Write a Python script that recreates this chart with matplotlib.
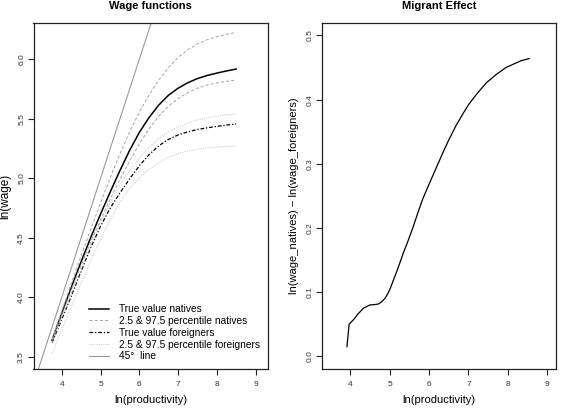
import matplotlib
matplotlib.use("Agg")
import matplotlib.pyplot as plt

plt.rcParams['font.family'] = ['Liberation Sans', 'DejaVu Sans']

# ---- data ----
x_wage = [3.75, 4.0, 4.25, 4.5, 4.75, 5.0, 5.25, 5.5, 5.75, 6.0,
          6.25, 6.5, 6.75, 7.0, 7.25, 7.5, 7.75, 8.0, 8.25, 8.5]
natives_true = [3.64, 3.867, 4.087, 4.30, 4.505, 4.70, 4.885, 5.065, 5.235, 5.385,
                5.51, 5.615, 5.697, 5.757, 5.803, 5.838, 5.864, 5.884, 5.902, 5.918]
natives_hi = [3.645, 3.885, 4.12, 4.35, 4.575, 4.795, 5.005, 5.205, 5.39, 5.555,
              5.70, 5.825, 5.93, 6.015, 6.08, 6.13, 6.165, 6.19, 6.21, 6.225]
natives_lo = [3.625, 3.85, 4.065, 4.27, 4.465, 4.65, 4.825, 4.99, 5.145, 5.29,
              5.415, 5.52, 5.605, 5.67, 5.72, 5.757, 5.784, 5.802, 5.815, 5.826]
foreign_true = [3.62, 3.815, 4.015, 4.22, 4.42, 4.597, 4.75, 4.877, 4.995, 5.105,
                5.198, 5.273, 5.326, 5.364, 5.39, 5.41, 5.424, 5.436, 5.447, 5.456]
foreign_hi = [3.625, 3.825, 4.03, 4.235, 4.435, 4.625, 4.795, 4.94, 5.065, 5.17,
              5.26, 5.335, 5.39, 5.43, 5.465, 5.49, 5.508, 5.522, 5.532, 5.54]
foreign_lo = [3.53, 3.725, 3.925, 4.12, 4.31, 4.49, 4.655, 4.80, 4.915, 5.005,
              5.075, 5.13, 5.175, 5.207, 5.23, 5.245, 5.255, 5.262, 5.267, 5.27]

x_effect = [3.92, 3.975, 4.1, 4.2, 4.34, 4.5, 4.65, 4.72, 4.8, 4.887, 4.95, 5.0,
            5.1, 5.2, 5.35, 5.47, 5.6, 5.72, 5.84, 6.0, 6.2, 6.35, 6.5, 6.68,
            6.87, 7.0, 7.2, 7.45, 7.7, 7.95, 8.2, 8.35, 8.54]
migrant_effect = [0.015, 0.050, 0.058, 0.066, 0.075, 0.080, 0.0808, 0.0816,
                  0.085, 0.0905, 0.097, 0.103, 0.119, 0.135, 0.161, 0.180,
                  0.202, 0.224, 0.245, 0.268, 0.296, 0.317, 0.337, 0.359,
                  0.379, 0.392, 0.408, 0.426, 0.439, 0.450, 0.457, 0.461, 0.464]

wage_xticks = [4, 5, 6, 7, 8, 9]
wage_yticks = [3.5, 4.0, 4.5, 5.0, 5.5, 6.0]
eff_xticks = [4, 5, 6, 7, 8, 9]
eff_yticks = [0.0, 0.1, 0.2, 0.3, 0.4, 0.5]

legend_labels = ["True value natives", "2.5 & 97.5 percentile natives",
                 "True value foreigners", "2.5 & 97.5 percentile foreigners",
                 "45°  line"]

# ---- figure ----
W, H = 564, 412
fig = plt.figure(figsize=(W / 100, H / 100), dpi=100)

def px_axes(l, r, t, b):
    return fig.add_axes([l / W, 1 - b / H, (r - l) / W, (b - t) / H])

ax1 = px_axes(33.5, 268, 23, 369)
ax2 = px_axes(321.7, 556, 23.3, 369)

def style(ax, xt, yt, fmt):
    for s in ax.spines.values():
        s.set_linewidth(0.9)
        s.set_color('#222222')
    ax.set_xticks(xt)
    ax.set_yticks(yt)
    ax.set_xticklabels([str(v) for v in xt])
    ax.set_yticklabels([fmt.format(v) for v in yt], rotation=90, va='center')
    ax.tick_params(direction='out', length=4.5, width=0.8, labelsize=6,
                   labelcolor='#333333', color='#222222')
    ax.tick_params(axis='y', pad=1.5)
    ax.tick_params(axis='x', pad=4)

# left panel
l1, = ax1.plot(x_wage, natives_true, color='black', lw=1.1, ls='-')
l2, = ax1.plot(x_wage, natives_hi, color='#aaaaaa', lw=0.75, ls=(0, (3, 2)))
ax1.plot(x_wage, natives_lo, color='#aaaaaa', lw=0.75, ls=(0, (3, 2)))
l3, = ax1.plot(x_wage, foreign_true, color='black', lw=0.9, ls=(0, (3, 1.5, 1, 1.5)))
l4, = ax1.plot(x_wage, foreign_hi, color='#c8c8c8', lw=0.75, ls=(0, (1, 1.2)))
ax1.plot(x_wage, foreign_lo, color='#c8c8c8', lw=0.75, ls=(0, (1, 1.2)))
l5 = ax1.axline((4.0, 4.0), slope=1, color='#999999', lw=0.8)
ax1.set_xlim(3.27, 9.32)
ax1.set_ylim(3.397, 6.305)
style(ax1, wage_xticks, wage_yticks, "{:.1f}")
ax1.set_title("Wage functions", fontsize=8, fontweight='bold', pad=10)
ax1.set_xlabel("ln(productivity)", fontsize=8, labelpad=5.5)
ax1.set_ylabel("ln(wage)", fontsize=8.5, labelpad=5)
ax1.legend([l1, l2, l3, l4, l5], legend_labels, loc='lower right',
           bbox_to_anchor=(1.0, 0.0), frameon=False, fontsize=7.3,
           handlelength=2.0, handletextpad=1.0, labelspacing=0.18,
           borderaxespad=0.35)

# right panel
ax2.plot(x_effect, migrant_effect, color='black', lw=0.9)
ax2.set_xlim(3.28, 9.22)
ax2.set_ylim(-0.0198, 0.519)
style(ax2, eff_xticks, eff_yticks, "{:.1f}")
ax2.set_title("Migrant Effect", fontsize=8, fontweight='bold', pad=10)
ax2.set_xlabel("ln(productivity)", fontsize=8, labelpad=5.5)
ax2.set_ylabel("ln(wage_natives) − ln(wage_foreigners)", fontsize=8, labelpad=5)

fig.savefig("out.png", dpi=100)
